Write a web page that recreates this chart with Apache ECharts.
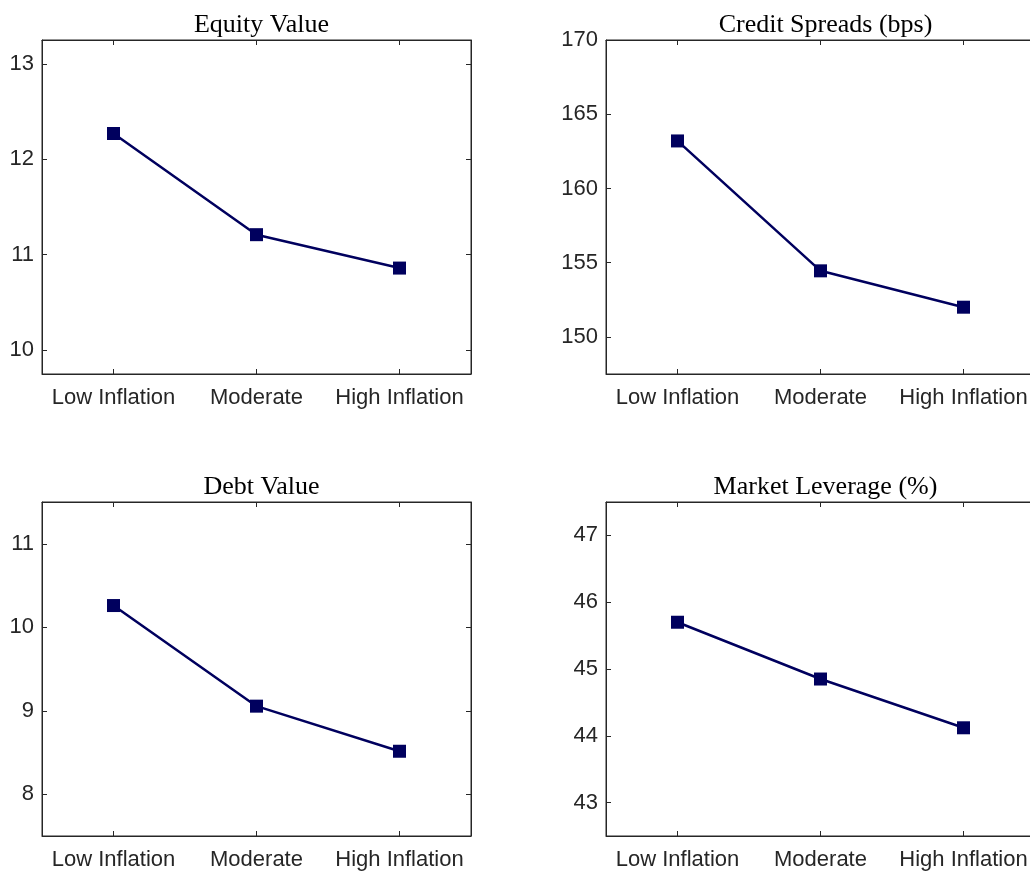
<!DOCTYPE html>
<html>
<head>
<meta charset="utf-8">
<script src="https://cdn.jsdelivr.net/npm/echarts@6/dist/echarts.min.js"></script>
<style>
html,body{margin:0;padding:0;background:#fff;overflow:hidden;}
#chart{width:1040px;height:874px;}
</style>
</head>
<body>
<div id="chart"></div>
<script>
const categories = ['Low Inflation', 'Moderate', 'High Inflation'];

const titles = ['Equity Value', 'Credit Spreads (bps)', 'Debt Value', 'Market Leverage (%)'];

const equityValue = [12.27, 11.21, 10.86];
const creditSpreads = [163.2, 154.45, 152.0];
const debtValue = [10.26, 9.055, 8.515];
const marketLeverage = [45.70, 44.85, 44.12];

const equityTicks = [10, 11, 12, 13];
const spreadTicks = [150, 155, 160, 165, 170];
const debtTicks = [8, 9, 10, 11];
const leverageTicks = [43, 44, 45, 46, 47];

const equityRange = [9.75, 13.25];
const spreadRange = [147.5, 170];
const debtRange = [7.5, 11.5];
const leverageRange = [42.5, 47.5];

const panels = [
  { title: titles[0], data: equityValue, ticks: equityTicks, range: equityRange, left: 42, top: 40 },
  { title: titles[1], data: creditSpreads, ticks: spreadTicks, range: spreadRange, left: 606, top: 40 },
  { title: titles[2], data: debtValue, ticks: debtTicks, range: debtRange, left: 42, top: 502 },
  { title: titles[3], data: marketLeverage, ticks: leverageTicks, range: leverageRange, left: 606, top: 502 }
];

const W = 429, H = 334;
const axisColor = '#262626';
const lineColor = '#00005e';

const grid = [], xAxis = [], yAxis = [], series = [], title = [];

panels.forEach((p, i) => {
  grid.push({ left: p.left, top: p.top, width: W, height: H, show: true, borderColor: axisColor, borderWidth: 1, containLabel: false });
  title.push({
    text: p.title, left: p.left + W / 2, top: p.top - 33, textAlign: 'center',
    textStyle: { fontFamily: 'Liberation Serif', fontSize: 26, fontWeight: 'normal', color: '#000' }
  });
  xAxis.push({
    gridIndex: i, type: 'category', data: categories, position: 'bottom', boundaryGap: true,
    axisLine: { show: true, lineStyle: { color: axisColor, width: 1 } },
    axisTick: { show: true, inside: true, alignWithLabel: true, length: 5, lineStyle: { color: axisColor } },
    axisLabel: { show: true, interval: 0, hideOverlap: false, margin: 13, color: axisColor, fontFamily: 'Liberation Sans', fontSize: 22 },
    splitLine: { show: false }
  });
  xAxis.push({
    gridIndex: i, type: 'category', data: categories, position: 'top', boundaryGap: true,
    axisLine: { show: true, lineStyle: { color: axisColor, width: 1 } },
    axisTick: { show: true, inside: true, alignWithLabel: true, interval: 0, length: 5, lineStyle: { color: axisColor } },
    axisLabel: { show: false },
    splitLine: { show: false }
  });
  yAxis.push({
    gridIndex: i, type: 'value', min: p.range[0], max: p.range[1], position: 'left',
    axisLine: { show: true, lineStyle: { color: axisColor, width: 1 } },
    axisTick: { show: true, inside: true, length: 5, customValues: p.ticks, lineStyle: { color: axisColor } },
    axisLabel: { show: true, margin: 8, customValues: p.ticks, color: axisColor, fontFamily: 'Liberation Sans', fontSize: 22 },
    splitLine: { show: false }
  });
  yAxis.push({
    gridIndex: i, type: 'value', min: p.range[0], max: p.range[1], position: 'right',
    axisLine: { show: true, lineStyle: { color: axisColor, width: 1 } },
    axisTick: { show: true, inside: true, length: 5, customValues: p.ticks, lineStyle: { color: axisColor } },
    axisLabel: { show: false },
    splitLine: { show: false }
  });
  series.push({
    type: 'line', xAxisIndex: 2 * i, yAxisIndex: 2 * i, data: p.data,
    symbol: 'rect', symbolSize: 13, showAllSymbol: true,
    lineStyle: { color: lineColor, width: 2.5 },
    itemStyle: { color: lineColor },
    animation: false, z: 5
  });
});

const chart = echarts.init(document.getElementById('chart'), null, { renderer: 'canvas' });
chart.setOption({
  backgroundColor: '#fff',
  animation: false,
  title, grid, xAxis, yAxis, series
});
</script>
</body>
</html>
